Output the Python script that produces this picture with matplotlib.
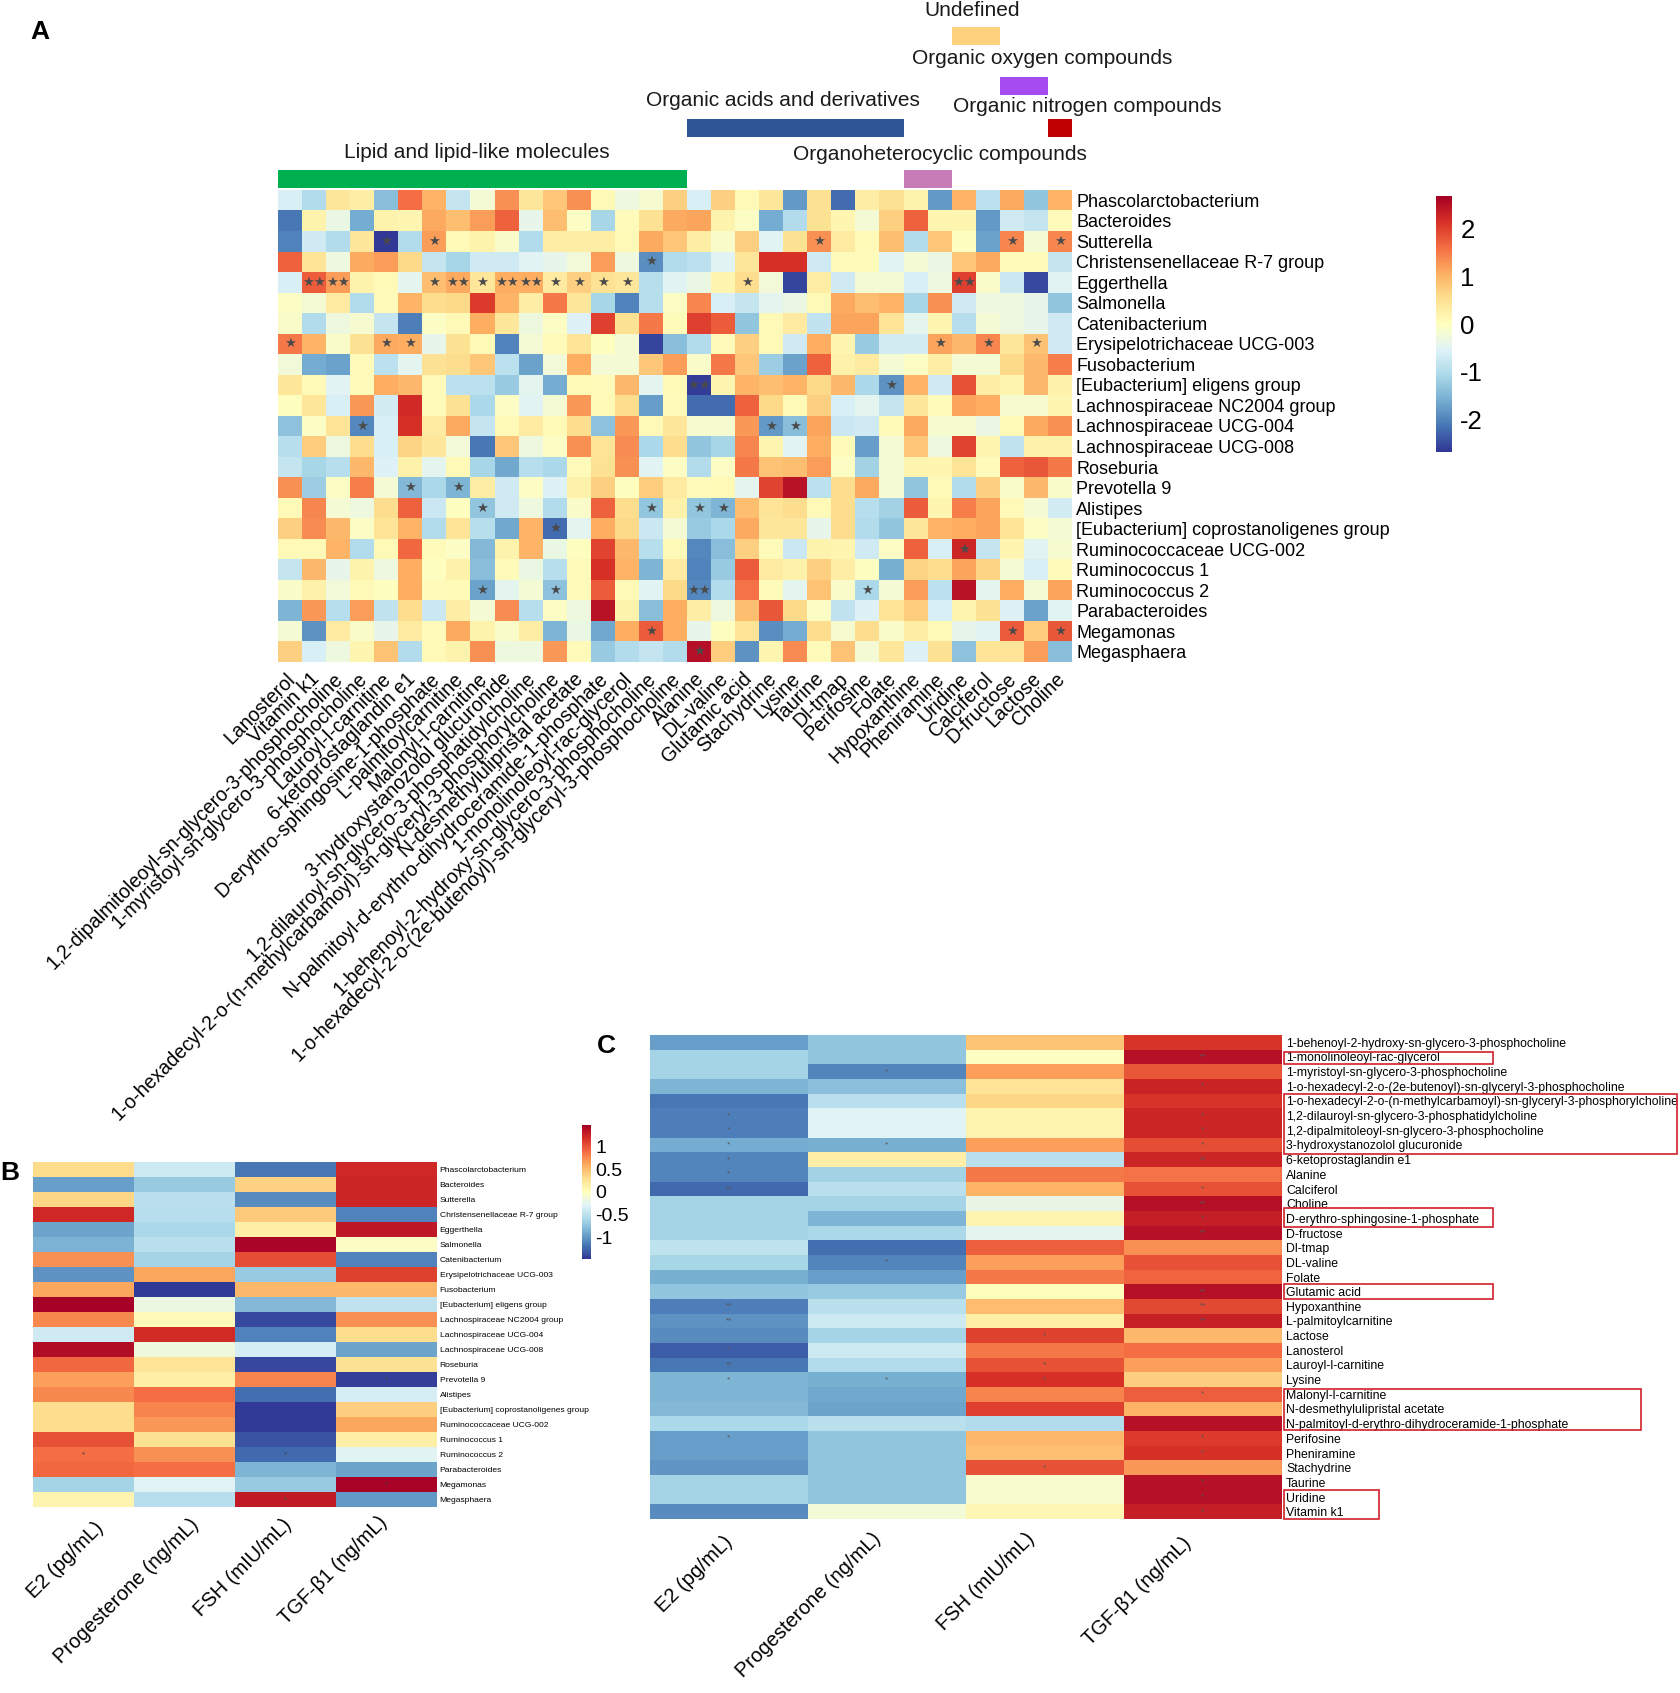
import numpy as np
import matplotlib
matplotlib.use("Agg")
import matplotlib.pyplot as plt
from matplotlib.patches import Rectangle

plt.rcParams['font.family'] = ['Liberation Sans', 'DejaVu Sans']
plt.rcParams['axes.unicode_minus'] = False

W, H = 1681, 1693

genera = ["Phascolarctobacterium", "Bacteroides", "Sutterella", "Christensenellaceae R-7 group", "Eggerthella",
          "Salmonella", "Catenibacterium", "Erysipelotrichaceae UCG-003", "Fusobacterium", "[Eubacterium] eligens group",
          "Lachnospiraceae NC2004 group", "Lachnospiraceae UCG-004", "Lachnospiraceae UCG-008", "Roseburia", "Prevotella 9",
          "Alistipes", "[Eubacterium] coprostanoligenes group", "Ruminococcaceae UCG-002", "Ruminococcus 1", "Ruminococcus 2",
          "Parabacteroides", "Megamonas", "Megasphaera"]

metabolites_A = ["Lanosterol", "Vitamin k1", "1,2-dipalmitoleoyl-sn-glycero-3-phosphocholine", "1-myristoyl-sn-glycero-3-phosphocholine",
                 "Lauroyl-l-carnitine", "6-ketoprostaglandin e1", "D-erythro-sphingosine-1-phosphate", "L-palmitoylcarnitine",
                 "Malonyl-l-carnitine", "3-hydroxystanozolol glucuronide", "1,2-dilauroyl-sn-glycero-3-phosphatidylcholine",
                 "1-o-hexadecyl-2-o-(n-methylcarbamoyl)-sn-glyceryl-3-phosphorylcholine", "N-desmethylulipristal acetate",
                 "N-palmitoyl-d-erythro-dihydroceramide-1-phosphate", "1-monolinoleoyl-rac-glycerol",
                 "1-behenoyl-2-hydroxy-sn-glycero-3-phosphocholine", "1-o-hexadecyl-2-o-(2e-butenoyl)-sn-glyceryl-3-phosphocholine",
                 "Alanine", "DL-valine", "Glutamic acid", "Stachydrine", "Lysine", "Taurine", "Dl-tmap", "Perifosine", "Folate",
                 "Hypoxanthine", "Pheniramine", "Uridine", "Calciferol", "D-fructose", "Lactose", "Choline"]

values_A = [
 [-.6,-1.0,.4,.3,-1.4,1.6,1.0,-.8,-.2,1.3,.4,.8,1.3,.1,-.3,-.15,.7,-.6,.7,.1,.4,-1.8,.5,-2.2,.3,.5,.2,-1.8,1.0,-.9,1.1,-1.3,1.0],
 [-2.1,.2,-.35,-1.6,.2,.15,1.1,.9,1.2,1.7,-.4,.9,-.05,-1.1,.05,.5,1.1,1.15,.2,-.05,-1.6,-1.0,.5,.15,-.2,.7,1.7,.15,.15,-1.8,-.7,-.8,.05],
 [-2.0,-.7,-1.0,.4,-2.65,-1.0,1.2,.1,.2,-.1,-1.0,.3,.3,.3,.1,1.1,.8,.3,-.1,.7,-.5,.5,1.3,.35,.1,.9,-1.0,.8,-.02,-1.7,1.4,-.2,1.4],
 [1.7,.45,-.3,1.1,1.2,.6,-.8,-1.1,-.7,-.7,-.5,-.4,-.25,1.2,-.3,-1.9,-1.0,-.9,-.5,.4,2.15,2.15,-.7,.05,.05,-.5,-.2,-.35,.8,1.1,.05,.05,-.8],
 [-.6,1.75,1.2,.2,.1,-.45,.9,1.1,.4,1.05,1.05,.35,.7,.5,.4,-.95,-.5,-.35,.15,.55,-.25,-2.55,.3,-.7,-.2,-.2,-.6,-.3,2.0,-.1,-.75,-2.5,-.5],
 [-.05,-.2,.35,-1.0,.05,1.0,.55,.6,2.05,1.0,.3,1.5,.4,-1.1,-2.0,-.95,-.05,1.4,-.6,-.8,-.45,-.35,.1,1.1,.9,1.0,-1.1,1.3,-.7,-.3,-.3,-.4,-1.3],
 [-.1,-1.0,-.3,-.15,-.8,-2.05,-.05,.1,1.05,.4,-.3,-.05,-.55,2.0,.5,1.5,.05,2.0,1.75,-1.3,.1,.35,-.85,1.15,1.15,.45,-.45,.15,-.95,-.2,-.3,-.4,-.7],
 [1.5,1.0,-.1,.5,1.1,1.05,-.4,.5,.1,-2.0,-.2,.05,.45,.02,-.2,-2.55,-1.4,-1.0,.05,.7,.1,-.7,1.05,.15,-1.25,-.65,-.65,1.15,.95,1.4,.4,.85,-.7],
 [-.25,-1.6,-1.7,.05,-.9,-.45,.5,.55,.8,-.9,-1.7,-.25,1.05,-.2,-.2,.8,1.2,-.1,1.5,.8,-1.2,-1.7,1.7,.25,.35,-.2,-.05,.3,-.2,-.2,.6,.95,1.45],
 [.4,.1,-.5,.05,1.05,.95,.05,-.9,-.9,-1.25,-.45,-1.6,.1,.05,.95,-.45,.1,-2.6,.15,1.0,.9,1.0,.6,.95,-1.05,-1.85,1.0,-.7,1.85,.3,.15,.95,.25],
 [.02,.4,-.6,1.25,-.65,2.2,.05,.5,-1.05,-.05,-.5,-.2,1.25,.1,.55,-1.75,.05,-2.2,-2.2,1.7,.6,.1,.7,-.6,-.45,-.8,.4,.05,1.15,1.05,-.15,-.15,.15],
 [-1.35,-.05,.45,-1.95,-.6,2.15,.35,1.1,-.8,.1,.35,.1,.55,-1.35,1.25,.1,.4,-.15,-.15,1.25,-1.8,-1.4,1.15,-.75,-.7,.1,1.1,-.15,-.15,-.35,.1,1.1,1.3],
 [-.95,.75,-.3,.55,-.6,.65,.4,-.25,-2.1,.8,-.3,-.05,1.3,.45,1.35,-1.05,.55,-1.3,-1.1,1.4,.15,-.5,1.05,.05,-1.75,-.2,.8,-.3,1.95,.15,-.85,.25,.25],
 [-.8,-1.1,-.95,.95,-.55,.25,-.45,.1,-1.1,-1.65,-.95,-1.05,.05,.5,1.3,-.5,-.05,-1.0,-.05,1.5,.85,.9,1.2,-.05,-1.15,-.2,.15,.15,.45,.05,1.7,1.8,1.5],
 [1.3,-1.2,-.05,1.45,-.2,-1.45,-1.05,-1.5,.3,-.7,-.05,-.55,.25,.7,.02,.75,.35,.05,.1,-.45,1.95,2.45,-.9,.55,1.1,-.2,-1.3,.1,-1.0,.7,-.1,.95,-.1],
 [.1,1.4,-.2,-.3,.55,1.7,-.75,-.02,-1.3,-.7,-.3,-1.0,-.1,1.7,.55,-1.3,.25,-1.3,-1.5,.9,.45,.55,.1,.55,-.95,-1.15,1.75,.15,1.45,1.15,.1,-.2,-.65],
 [.7,1.35,.95,-.05,.45,1.0,-1.0,.45,-.95,-1.65,1.0,-2.2,-.45,1.05,.6,-.75,-.2,-1.25,-1.05,1.1,.4,.4,-.4,.55,-1.0,-1.3,.4,1.0,1.05,1.15,.45,-.05,-.2],
 [.1,.1,1.0,-1.0,.1,1.65,.05,-.05,-1.45,.2,1.0,-.35,.0,1.95,.95,-.95,.1,-1.95,-1.4,.7,.05,-.75,.2,.15,-.7,-.05,1.7,-.6,2.25,-.8,.15,-.5,-.15],
 [-.8,.95,-.4,.2,-.3,1.05,-.02,.25,-1.4,.05,-.35,-.95,.05,2.15,1.0,-1.5,.35,-2.0,-1.25,1.75,.35,.25,.7,.3,.02,-1.55,.65,.55,1.15,.65,-.2,-.6,.05],
 [-.1,.25,-.25,.1,.02,1.05,.05,.08,-1.7,-.45,-.2,-1.35,.05,1.75,.1,-.5,.6,-1.95,-1.0,1.55,.05,-.45,.85,-.1,-1.05,-.2,1.2,-.9,2.45,-.45,1.05,-.2,1.15],
 [-1.5,1.25,-.95,1.2,-.85,.55,-.75,.3,-.2,1.35,-.95,-.05,-.3,2.45,.2,-1.4,1.05,.3,-.3,.9,1.8,.6,-.05,-.85,-.55,.45,.75,-.6,.15,.5,-.55,-1.7,-.5],
 [-.2,-1.85,.35,-.1,-.4,.35,.05,1.1,.2,-.1,.3,-1.5,-.35,-1.65,1.05,1.75,1.05,-.4,-.02,.45,-1.9,-1.6,.55,-.15,.55,-.1,.3,.1,-.4,-.5,1.75,.75,1.8],
 [.7,-.6,-.3,.15,.85,-1.0,.1,.2,1.3,-.3,-.3,1.25,.05,-1.25,-1.0,-.8,-1.0,2.5,.75,-1.85,.15,1.35,.05,.85,-.2,.4,-.55,.5,-1.35,.45,.45,1.2,-1.4],
]

# (row, column, number of stars)
stars_A = [(2,4,1),(2,6,1),(2,22,1),(2,30,1),(2,32,1),(3,15,1),
           (4,1,2),(4,2,2),(4,6,1),(4,7,2),(4,8,1),(4,9,2),(4,10,2),(4,11,1),(4,12,1),(4,13,1),(4,14,1),(4,19,1),(4,28,2),
           (7,0,1),(7,4,1),(7,5,1),(7,27,1),(7,29,1),(7,31,1),(9,17,2),(9,25,1),(11,3,1),(11,20,1),(11,21,1),
           (14,5,1),(14,7,1),(15,8,1),(15,15,1),(15,17,1),(15,18,1),(16,11,1),(17,28,1),
           (19,8,1),(19,11,1),(19,17,2),(19,24,1),(21,15,1),(21,30,1),(21,32,1),(22,17,1)]

class_names = ["Lipid and lipid-like molecules", "Organic acids and derivatives", "Organoheterocyclic compounds",
               "Undefined", "Organic oxygen compounds", "Organic nitrogen compounds"]
class_start = [0, 17, 26, 28, 30, 32]
class_count = [17, 9, 2, 2, 2, 1]
class_colors = ["#00b050", "#2f5597", "#c77cb7", "#fdd27f", "#a64bf0", "#c00000"]
class_bar_top = [170, 119, 170, 27, 77, 119]
class_label_xy = [(477, 153), (783, 100), (940, 155), (972, 10), (1042, 59), (1087, 107)]

hormones = ["E2 (pg/mL)", "Progesterone (ng/mL)", "FSH (mIU/mL)", "TGF-β1 (ng/mL)"]

values_B = [
 [.32,-.4,-1.15,1.22],[-.95,-.68,.37,1.24],[.35,-.5,-1.05,1.24],[1.22,-.52,.42,-1.1],[-.93,-.58,.14,1.32],
 [-.83,-.5,1.43,-.03],[.72,-.62,1.03,-1.1],[-1.02,.62,-.68,1.08],[.62,-1.44,.52,.52],[1.45,-.18,-.8,-.47],
 [.75,.03,-1.37,.72],[-.38,1.2,-1.1,.3],[1.38,-.15,-.35,-.92],[.9,.25,-1.38,.27],[.65,.15,.78,-1.42],
 [.75,.88,-1.2,-.35],[.3,.78,-1.44,.4],[.3,.68,-1.44,.62],[1.02,.27,-1.33,.14],[.88,.72,-1.22,-.27],
 [.9,.88,-.82,-.92],[-.62,-.28,-.68,1.44],[.1,-.52,1.3,-.98],
]
stars_B = [(14,3,1),(19,0,1),(19,2,1),(21,3,1),(22,2,1)]

metabolites_C = ["1-behenoyl-2-hydroxy-sn-glycero-3-phosphocholine", "1-monolinoleoyl-rac-glycerol", "1-myristoyl-sn-glycero-3-phosphocholine",
                 "1-o-hexadecyl-2-o-(2e-butenoyl)-sn-glyceryl-3-phosphocholine", "1-o-hexadecyl-2-o-(n-methylcarbamoyl)-sn-glyceryl-3-phosphorylcholine",
                 "1,2-dilauroyl-sn-glycero-3-phosphatidylcholine", "1,2-dipalmitoleoyl-sn-glycero-3-phosphocholine", "3-hydroxystanozolol glucuronide",
                 "6-ketoprostaglandin e1", "Alanine", "Calciferol", "Choline", "D-erythro-sphingosine-1-phosphate", "D-fructose", "Dl-tmap", "DL-valine",
                 "Folate", "Glutamic acid", "Hypoxanthine", "L-palmitoylcarnitine", "Lactose", "Lanosterol", "Lauroyl-l-carnitine", "Lysine",
                 "Malonyl-l-carnitine", "N-desmethylulipristal acetate", "N-palmitoyl-d-erythro-dihydroceramide-1-phosphate", "Perifosine",
                 "Pheniramine", "Stachydrine", "Taurine", "Uridine", "Vitamin k1"]

values_C = [
 [-.95,-.72,.45,1.15],[-.62,-.72,-.02,1.36],[-.62,-1.08,.65,.98],[-.82,-.75,.25,1.25],[-1.15,-.5,.35,1.15],
 [-1.12,-.28,.1,1.23],[-1.12,-.28,.1,1.23],[-.88,-.85,.65,1.03],[-1.08,.15,-.5,1.24],[-1.08,-.63,.82,.85],
 [-1.22,-.5,.55,1.0],[-.62,-.62,-.2,1.36],[-.62,-.82,.1,1.28],[-.62,-.58,-.25,1.36],[-.48,-1.2,.95,.72],
 [-.6,-1.08,.65,1.0],[-.85,-.95,.82,.93],[-.72,-.68,.02,1.36],[-1.12,-.5,.5,1.05],[-1.02,-.4,.15,1.27],
 [-1.05,-.62,1.08,.52],[-1.28,-.4,.82,.88],[-1.15,-.55,1.0,.65],[-.82,-.85,1.18,.4],[-.82,-.9,.78,.95],
 [-.8,-.92,1.1,.55],[-.58,-.5,-.55,1.36],[-.95,-.72,.52,1.12],[-.95,-.72,.48,1.16],[-1.0,-.72,1.0,.68],
 [-.62,-.72,-.08,1.36],[-.62,-.72,-.08,1.36],[-1.05,-.12,.07,1.28],
]
stars_C = [(1,3,2),(2,1,1),(3,3,1),(5,0,1),(5,3,1),(6,0,1),(6,3,1),(7,0,1),(7,1,1),(7,3,1),(8,0,1),(8,3,2),(9,0,1),(10,0,2),(10,3,1),
           (11,3,2),(12,3,1),(13,3,2),(15,1,1),(17,3,2),(18,0,2),(18,3,2),(19,0,2),(19,3,2),(20,2,1),(21,0,1),(22,0,2),(22,2,1),
           (23,0,1),(23,1,1),(23,2,1),(24,3,1),(27,0,1),(27,3,1),(28,3,1),(29,2,1),(30,3,1),(31,3,1),(32,3,1)]

fig = plt.figure(figsize=(W / 100, H / 100), dpi=100, facecolor='white')

def px_axes(x0, y0, x1, y1):
    return fig.add_axes([x0 / W, 1 - y1 / H, (x1 - x0) / W, (y1 - y0) / H])

overlay = fig.add_axes([0, 0, 1, 1], zorder=10)
overlay.set_xlim(0, W)
overlay.set_ylim(H, 0)
overlay.axis('off')
overlay.patch.set_alpha(0)

def heat(box, values, vmax):
    ax = px_axes(*box)
    im = ax.imshow(np.array(values), cmap='RdYlBu_r', vmin=-vmax, vmax=vmax, aspect='auto', interpolation='nearest')
    for s in ax.spines.values():
        s.set_visible(False)
    ax.set_xticks([])
    ax.yaxis.tick_right()
    ax.tick_params(axis='y', length=0)
    return ax, im

def colorbar(box, im, ticks, fs, pad):
    cax = px_axes(*box)
    cb = fig.colorbar(im, cax=cax, ticks=ticks)
    cb.outline.set_visible(False)
    cb.ax.tick_params(length=0, labelsize=fs, pad=pad)
    cb.ax.set_yticklabels([f'{t:g}' for t in ticks])

# Panel A
axA, imA = heat((278, 190, 1072, 662), values_A, 2.68)
axA.set_yticks(range(len(genera)))
axA.set_yticklabels(genera, fontsize=12.95)
axA.tick_params(axis='y', pad=3)
for i, name in enumerate(metabolites_A):
    axA.text(i - 0.2, 22.85, name, rotation=45, ha='right', va='top', rotation_mode='anchor', fontsize=14.05, clip_on=False)
for r, c, n in stars_A:
    axA.text(c, r, '★' * n, ha='center', va='center', fontsize=9.5, color='#4a4a4a', family=['DejaVu Sans'])

for name, start, count, col, top, xy in zip(class_names, class_start, class_count, class_colors, class_bar_top, class_label_xy):
    xa = 278 + start * (1072 - 278) / 33
    xb = 278 + (start + count) * (1072 - 278) / 33
    overlay.add_patch(Rectangle((xa, top), xb - xa, 18, facecolor=col, edgecolor='none'))
    overlay.text(xy[0], xy[1], name, ha='center', va='center', fontsize=15, color='#1a1a1a')

colorbar((1436, 196, 1452, 452), imA, [-2, -1, 0, 1, 2], 18.5, 6)

# Panel B
axB, imB = heat((33.5, 1162, 437.5, 1507), values_B, 1.47)
axB.set_yticks(range(len(genera)))
axB.set_yticklabels(genera, fontsize=6.1)
axB.tick_params(axis='y', pad=1.5)
for r, c, n in stars_B:
    axB.text(c, r, '*' * n, ha='center', va='center', fontsize=6, color='#444444')
for name, (x, y) in zip(hormones, [(94, 1518), (189, 1515), (282, 1515), (378, 1513)]):
    overlay.text(x, y, name, rotation=45, ha='right', va='top', rotation_mode='anchor', fontsize=14.5)
colorbar((582, 1125, 591, 1259), imB, [-1, -0.5, 0, 0.5, 1], 14, 3)

# Panel C
axC, imC = heat((650, 1035, 1282, 1519), values_C, 1.47)
axC.set_yticks(range(len(metabolites_C)))
axC.set_yticklabels(metabolites_C, fontsize=8.85)
axC.tick_params(axis='y', pad=3)
for r, c, n in stars_C:
    axC.text(c, r, '*' * n, ha='center', va='center', fontsize=6, color='#555555')
for name, (x, y) in zip(hormones, [(723, 1532), (871, 1529), (1025, 1529), (1182, 1534)]):
    overlay.text(x, y, name, rotation=45, ha='right', va='top', rotation_mode='anchor', fontsize=14.5)

for x0, y0, x1, y1 in [(1284, 1052, 1493, 1064), (1284, 1094, 1677, 1154), (1284, 1208, 1493, 1227),
                       (1284, 1284, 1493, 1299), (1284, 1389, 1641, 1430), (1284, 1490, 1379, 1519)]:
    overlay.add_patch(Rectangle((x0, y0), x1 - x0, y1 - y0, fill=False, edgecolor='#d0202a', linewidth=1.2))

for letter, x, y in [('A', 40, 32), ('B', 10, 1173), ('C', 606, 1046)]:
    overlay.text(x, y, letter, ha='center', va='center', fontsize=19, fontweight='bold')

fig.savefig('out.png', dpi=100)
